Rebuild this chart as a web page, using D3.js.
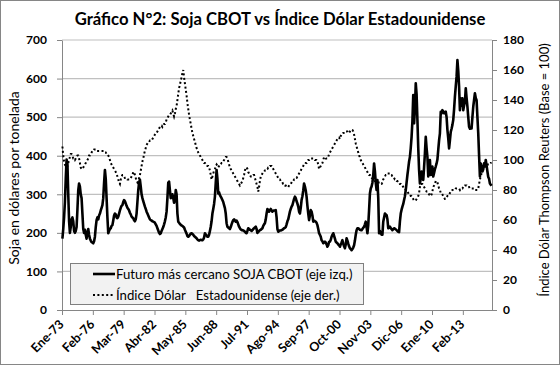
<!DOCTYPE html>
<html>
<head>
<meta charset="utf-8">
<script src="https://cdn.jsdelivr.net/npm/d3@7"></script>
<style>
  body { margin: 0; background: #fff; }
  svg { display: block; font-family: Lato, "Open Sans", sans-serif; }
</style>
</head>
<body>
<div id="chart"></div>
<script>
// monthly series, Jan 1973 -> Dec 2015 (one row per year)
const startYear = 1973;

const soja = [
  185,210,240,280,340,390,380,300,230,200,215,235,
  240,230,205,200,205,215,260,310,328,320,300,290,
  250,210,200,208,195,185,200,210,195,185,180,176,
  175,173,178,190,215,233,240,235,245,250,258,265,
  272,290,330,363,340,290,240,199,205,210,212,218,
  220,232,245,250,248,240,238,242,250,258,265,270,
  272,280,285,282,276,270,265,262,258,252,248,242,
  240,238,233,230,235,250,280,310,330,338,320,300,
  290,282,275,268,262,255,250,245,240,235,233,232,
  230,229,228,226,222,218,212,206,200,197,199,205,
  210,215,222,230,240,255,290,330,333,310,290,295,
  300,290,278,285,311,300,250,229,226,223,221,219,
  218,216,214,208,203,198,192,190,192,195,198,199,
  197,195,192,190,188,186,183,181,180,181,182,181,
  181,183,188,199,196,193,190,190,195,205,216,230,
  250,262,275,294,330,363,340,302,305,298,294,290,
  285,280,272,264,250,225,216,214,212,210,215,222,
  228,233,235,232,229,232,228,222,216,212,209,207,
  207,206,205,203,200,199,205,212,210,208,207,205,
  207,210,212,214,216,210,200,202,205,207,208,210,
  212,218,222,225,235,250,262,258,255,259,262,258,
  255,257,258,258,259,240,210,203,205,206,206,207,
  208,210,212,213,215,222,230,235,245,255,262,268,
  272,280,288,294,290,282,276,268,255,250,265,285,
  295,310,328,320,310,294,270,250,233,245,259,255,
  245,229,232,230,229,226,220,210,199,195,190,181,
  178,173,175,177,175,170,164,168,177,177,182,190,
  195,199,192,185,177,175,173,170,168,164,170,175,
  181,172,165,160,170,186,180,172,165,160,158,155,
  158,162,168,180,195,207,212,212,210,208,207,207,
  210,213,216,222,229,215,199,220,259,302,315,320,
  330,350,380,360,330,311,337,290,199,205,200,195,
  195,229,240,250,248,246,235,212,214,216,212,210,
  207,209,212,211,209,207,205,203,202,230,250,260,
  268,275,285,295,311,330,350,367,385,397,420,449,
  490,557,484,520,588,560,493,420,363,328,340,359,
  350,337,370,406,449,420,397,346,370,389,350,362,
  372,346,355,365,372,380,390,415,440,458,514,510,
  518,515,510,512,514,500,467,445,419,440,462,470,
  480,493,520,553,580,605,648,620,579,518,549,530,
  549,518,530,540,575,550,527,500,475,470,471,471,
  500,527,545,562,550,544,500,458,400,346,380,370,
  359,365,380,372,389,375,359,345,340,328,325,322
];

const dolar = [
  109,103,99,97,96,95,96,98,100,102,104,104,
  103,101,101,100,101,102,103,103,101,98,95,94,
  94,95,96,97,98,99,100,101,103,103,104,105,
  106,106,107,107,107,106,106,106,106,106,106,106,
  106,106,106,105,105,104,104,103,102,100,98,97,
  96,95,94,93,92,91,89,87,85,84,87,89,
  90,90,89,88,88,88,87,87,87,87,88,89,
  90,92,92,90,88,86,85,86,88,90,93,96,
  99,101,104,106,108,110,111,112,112,113,113,113,
  114,115,116,117,118,118,119,120,121,122,123,123,
  122,123,124,124,125,127,128,129,130,130,131,132,
  133,131,129,131,134,136,140,144,148,150,153,155,
  158,160,155,151,147,143,138,134,130,127,124,121,
  118,116,114,112,110,108,107,105,104,103,102,101,
  100,99,98,98,97,97,96,96,95,93,90,87,
  89,91,93,94,96,97,96,95,96,97,97,98,
  98,99,100,101,102,102,101,99,97,95,94,93,
  92,91,90,89,88,87,86,85,84,83,84,85,
  86,88,90,93,95,95,94,92,91,90,89,89,
  89,90,90,88,86,84,82,79,82,86,89,90,
  91,92,92,93,93,94,94,95,95,96,96,96,
  95,94,93,92,91,90,89,88,87,87,86,86,
  85,84,84,83,83,82,82,82,83,84,84,85,
  86,86,87,87,88,88,89,90,91,92,93,94,
  95,96,97,97,98,98,99,100,100,101,101,101,
  101,101,101,100,100,100,99,97,94,95,96,97,
  98,100,102,102,101,101,101,102,104,105,106,107,
  108,109,110,111,112,113,114,115,115,114,116,117,
  117,118,118,118,119,119,119,118,118,119,120,120,
  120,119,117,114,111,109,107,105,103,102,100,99,
  98,97,96,95,94,93,92,91,90,90,89,88,
  88,87,87,86,86,86,85,85,85,85,84,84,
  85,87,88,89,90,90,91,91,91,91,90,90,
  89,89,88,87,87,86,86,85,85,84,84,83,
  83,82,81,81,80,79,79,78,77,77,76,76,
  75,74,73,73,73,74,75,76,78,82,84,84,
  84,83,82,81,80,79,79,78,77,77,76,77,
  79,82,83,84,86,86,85,83,81,80,78,78,
  77,76,75,74,74,75,76,76,77,78,79,79,
  80,80,80,80,81,81,81,81,81,80,81,81,
  81,82,82,83,83,83,82,82,82,81,81,81,
  81,81,81,80,80,80,80,81,84,87,89,91,
  93,94,96,96,96,96,97,97,97,97,98,98
];

const xTickLabels = ["Ene-73","Feb-76","Mar-79","Abr-82","May-85","Jun-88","Jul-91",
                     "Ago-94","Sep-97","Oct-00","Nov-03","Dic-06","Ene-10","Feb-13"];
const leftTicks = [0,100,200,300,400,500,600,700];
const rightTicks = [0,20,40,60,80,100,120,140,160,180];
const labelStep = 37; // months between category labels

const W = 560, H = 365;
const plot = { left: 62, right: 492, top: 40, bottom: 310 };
const N = soja.length;

const svg = d3.select("#chart").append("svg")
  .attr("width", W)
  .attr("height", H);

svg.append("rect")
  .attr("x", 0.5).attr("y", 0.5)
  .attr("width", W - 1).attr("height", H - 1)
  .attr("fill", "#fff")
  .attr("stroke", "#868686");

const x = d3.scaleLinear().domain([0, N]).range([plot.left, plot.right]);
const yL = d3.scaleLinear().domain([0, 700]).range([plot.bottom, plot.top]);
const yR = d3.scaleLinear().domain([0, 180]).range([plot.bottom, plot.top]);

// gridlines
svg.append("g")
  .selectAll("line")
  .data(leftTicks.slice(1))
  .enter().append("line")
  .attr("x1", plot.left).attr("x2", plot.right)
  .attr("y1", d => yL(d)).attr("y2", d => yL(d))
  .attr("stroke", "#c0c0c0")
  .attr("stroke-width", 1.2);

// left axis
const axL = svg.append("g")
  .attr("transform", "translate(" + plot.left + ",0)")
  .call(d3.axisLeft(yL).tickValues(leftTicks).tickSize(5).tickSizeOuter(0).tickPadding(10));

// right axis
const axR = svg.append("g")
  .attr("transform", "translate(" + plot.right + ",0)")
  .call(d3.axisRight(yR).tickValues(rightTicks).tickSize(5).tickSizeOuter(0).tickPadding(6));

// bottom axis
const axB = svg.append("g")
  .attr("transform", "translate(0," + plot.bottom + ")")
  .call(d3.axisBottom(x)
    .tickValues(d3.range(0, N, labelStep))
    .tickFormat((d, i) => xTickLabels[i])
    .tickSize(5).tickSizeOuter(0));

[axL, axR, axB].forEach(a => {
  a.select(".domain").attr("stroke", "#868686");
  a.selectAll(".tick line").attr("stroke", "#868686");
  a.selectAll("text")
    .attr("font-family", "Lato, 'Open Sans', sans-serif")
    .attr("font-size", 12)
    .attr("font-weight", "bold")
    .attr("fill", "#000");
});

axB.selectAll("text")
  .attr("x", 0).attr("y", 0).attr("dy", "0.35em")
  .attr("text-anchor", "end")
  .attr("font-size", 12.5)
  .attr("transform", "translate(-1,12) rotate(-45)");

// series
const lineSoja = d3.line()
  .x((d, i) => x(i + 0.5))
  .y(d => yL(d));
const lineDolar = d3.line()
  .x((d, i) => x(i + 0.5))
  .y(d => yR(d));

svg.append("path")
  .datum(dolar)
  .attr("fill", "none")
  .attr("stroke", "#000")
  .attr("stroke-width", 2)
  .attr("stroke-dasharray", "2,2.4")
  .attr("d", lineDolar);

svg.append("path")
  .datum(soja)
  .attr("fill", "none")
  .attr("stroke", "#000")
  .attr("stroke-width", 2.6)
  .attr("stroke-linejoin", "round")
  .attr("d", lineSoja);

// title
svg.append("text")
  .attr("x", W / 2).attr("y", 25)
  .attr("text-anchor", "middle")
  .attr("font-size", 16.7)
  .attr("font-weight", "bold")
  .text("Gráfico N°2: Soja CBOT vs Índice Dólar Estadounidense");

// axis titles
svg.append("text")
  .attr("transform", "translate(19," + ((plot.top + plot.bottom) / 2 + 3) + ") rotate(-90)")
  .attr("text-anchor", "middle")
  .attr("font-size", 14)
  .text("Soja en dólares por tonelada");

svg.append("text")
  .attr("transform", "translate(549," + ((plot.top + plot.bottom) / 2 - 5) + ") rotate(-90)")
  .attr("text-anchor", "middle")
  .attr("font-size", 13)
  .text("Índice Dólar Thompson Reuters (Base = 100)");

// legend
const legend = svg.append("g").attr("transform", "translate(70,263)");
legend.append("rect")
  .attr("x", 0.5).attr("y", 0.5)
  .attr("width", 293).attr("height", 41)
  .attr("fill", "#f2f2f2")
  .attr("stroke", "#7f7f7f");

const legendItems = [
  { label: "Futuro más cercano SOJA CBOT (eje izq.)", dash: null, width: 2.6 },
  { label: "Índice Dólar   Estadounidense (eje der.)", dash: "2,2.4", width: 2 }
];

legendItems.forEach((it, i) => {
  const gy = 11 + i * 21;
  legend.append("line")
    .attr("x1", 23).attr("x2", 45)
    .attr("y1", gy).attr("y2", gy)
    .attr("stroke", "#000")
    .attr("stroke-width", it.width)
    .attr("stroke-dasharray", it.dash);
  legend.append("text")
    .attr("x", 46).attr("y", gy).attr("dy", "0.35em")
    .attr("font-size", 13.2)
    .style("white-space", "pre")
    .text(it.label);
});
</script>
</body>
</html>
